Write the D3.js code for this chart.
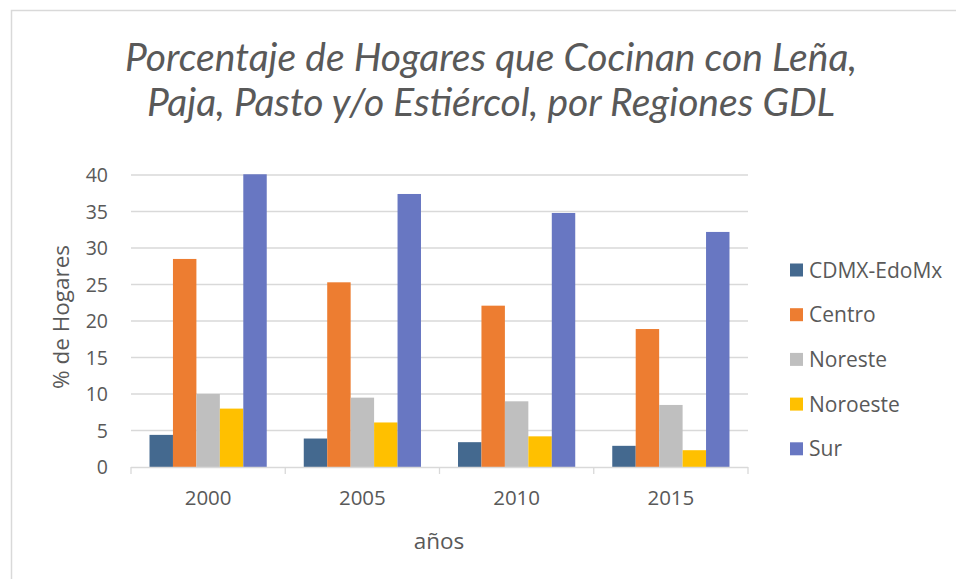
<!DOCTYPE html>
<html><head><meta charset="utf-8">
<script src="https://cdn.jsdelivr.net/npm/d3@7"></script>
<style>body{margin:0;background:#fff}svg{display:block}text{font-family:"Open Sans",Lato,sans-serif;fill:#595959}</style>
</head><body><svg id="c" width="956" height="579"></svg>
<script>
const years = ["2000","2005","2010","2015"];
const seriesNames = ["CDMX-EdoMx","Centro","Noreste","Noroeste","Sur"];
const seriesColors = ["#44698f","#ed7d31","#bfbfbf","#ffc000","#6877c2"];
const cdmx = [4.4, 3.9, 3.4, 2.9];
const centro = [28.5, 25.3, 22.1, 18.9];
const noreste = [10.0, 9.5, 9.0, 8.5];
const noroeste = [8.0, 6.1, 4.2, 2.3];
const sur = [40.1, 37.4, 34.8, 32.2];
const yTicks = [0,5,10,15,20,25,30,35,40];
const seriesValues = [cdmx, centro, noreste, noroeste, sur];

const svg = d3.select("#c");
svg.append("rect").attr("x",11.5).attr("y",10.5).attr("width",960).attr("height",600)
  .attr("fill","#fff").attr("stroke","#d9d9d9").attr("stroke-width",1.5);

const L=131, R=748, T=175, B=467;
const x = d3.scaleBand().domain(years).range([L,R]).paddingInner(0.24).paddingOuter(0.12);
const x0 = d3.scaleBand().domain(years).range([L,R]);
const xs = d3.scaleBand().domain(seriesNames).range([0,x.bandwidth()]);
const y = d3.scaleLinear().domain([0,40]).range([B,T]);

// gridlines
svg.append("g").selectAll("line").data(yTicks.filter(d=>d>0)).join("line")
  .attr("x1",L).attr("x2",R).attr("y1",d=>y(d)).attr("y2",d=>y(d))
  .attr("stroke","#d9d9d9").attr("stroke-width",1.3);

// y labels
svg.append("g").selectAll("text").data(yTicks).join("text")
  .attr("x",108).attr("y",d=>y(d)).attr("dy","0.36em").attr("text-anchor","end")
  .attr("font-size",19.5).text(d=>d);

// bars
const g = svg.append("g");
seriesNames.forEach((s,i)=>{
  g.append("g").selectAll("rect").data(years).join("rect")
    .attr("x",d=>x(d)+xs(s)).attr("width",xs.bandwidth())
    .attr("y",(d,j)=>y(seriesValues[i][j])).attr("height",(d,j)=>B-y(seriesValues[i][j]))
    .attr("fill",seriesColors[i]);
});

// x axis
svg.append("line").attr("x1",L).attr("x2",R).attr("y1",B+0.5).attr("y2",B+0.5)
  .attr("stroke","#d9d9d9").attr("stroke-width",1.3);
const bounds = years.map(d=>x0(d)).concat([R]);
svg.append("g").selectAll("line").data(bounds).join("line")
  .attr("x1",d=>d).attr("x2",d=>d).attr("y1",B).attr("y2",B+7)
  .attr("stroke","#d9d9d9").attr("stroke-width",1.3);
svg.append("g").selectAll("text").data(years).join("text")
  .attr("x",d=>x0(d)+x0.bandwidth()/2).attr("y",505).attr("text-anchor","middle")
  .attr("font-size",20.5).text(d=>d);

// axis titles
svg.append("text").attr("x",439).attr("y",549).attr("text-anchor","middle").attr("font-size",22.5).text("años");
svg.append("text").attr("transform","translate(69,317) rotate(-90)").attr("text-anchor","middle")
  .attr("font-size",22.5).text("% de Hogares");

// title
const title = svg.append("text").attr("text-anchor","middle").attr("font-size",39).attr("font-style","italic").style("font-family","Lato,'Open Sans',sans-serif");
title.append("tspan").attr("x",491).attr("y",71).text("Porcentaje de Hogares que Cocinan con Leña,");
title.append("tspan").attr("x",491).attr("y",116).text("Paja, Pasto y/o Estiércol, por Regiones GDL");

// legend
const lg = svg.append("g");
seriesNames.forEach((s,i)=>{
  const yy = 270 + i*44.7;
  lg.append("rect").attr("x",790).attr("y",yy-6.5).attr("width",13).attr("height",13).attr("fill",seriesColors[i]);
  lg.append("text").attr("x",809).attr("y",yy).attr("dy","0.36em").attr("font-size",21).text(s);
});
</script></body></html>
